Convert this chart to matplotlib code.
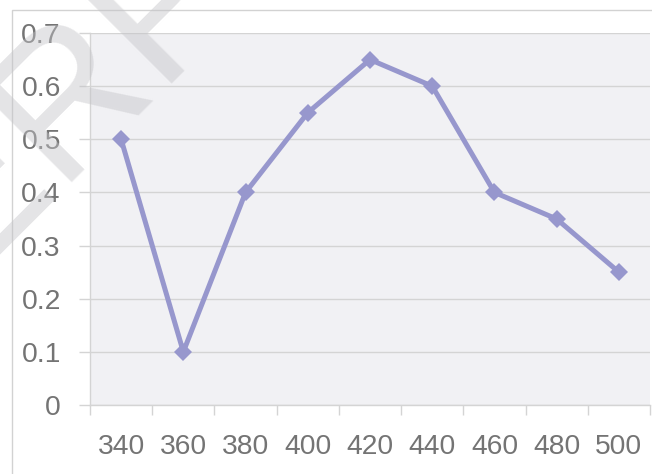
import matplotlib
matplotlib.use("Agg")
import matplotlib.pyplot as plt
from matplotlib.patches import Rectangle
import numpy as np

categories = ["340", "360", "380", "400", "420", "440", "460", "480", "500"]
values = [0.5, 0.1, 0.4, 0.55, 0.65, 0.6, 0.4, 0.35, 0.25]
y_ticks = [0, 0.1, 0.2, 0.3, 0.4, 0.5, 0.6, 0.7]
y_labels = ["0", "0.1", "0.2", "0.3", "0.4", "0.5", "0.6", "0.7"]

W, H = 652, 474
DPI = 100
plt.rcParams['font.family'] = ['Liberation Sans', 'DejaVu Sans']

fig = plt.figure(figsize=(W / DPI, H / DPI), dpi=DPI)
fig.patch.set_facecolor('white')

# outer chart border
fig.patches.append(Rectangle((12 / W, -0.1), 1.0, (H - 10) / H + 0.1,
                             transform=fig.transFigure, fill=False,
                             edgecolor='#d2d2d2', linewidth=1.0, zorder=0))

ax = fig.add_axes([90 / W, (H - 405) / H, 560 / W, 372 / H])
ax.set_facecolor('#f1f1f4')

x = np.arange(len(categories))
ax.plot(x, values, color='#9797cd', linewidth=3.6, marker='D',
        markersize=9.5, markeredgewidth=0, zorder=3, solid_joinstyle='miter')

ax.set_xlim(-0.5, len(categories) - 0.5)
ax.set_ylim(0, 0.7)

ax.set_yticks(y_ticks)
ax.set_yticklabels(y_labels)
ax.set_xticks(x)
ax.set_xticklabels(categories)
ax.set_xticks(np.arange(len(categories) + 1) - 0.5, minor=True)

ax.yaxis.grid(True, color='#d4d4d4', linewidth=1.0, zorder=1)
ax.set_axisbelow(True)

for s in ['top', 'right']:
    ax.spines[s].set_visible(False)
for s in ['left', 'bottom']:
    ax.spines[s].set_color('#d4d4d4')
    ax.spines[s].set_linewidth(1.0)

ax.tick_params(axis='y', which='major', length=8, width=1.0, color='#d4d4d4',
               labelsize=20.3, labelcolor='#747474', pad=13)
ax.tick_params(axis='x', which='major', length=0, labelsize=20.3,
               labelcolor='#747474', pad=21)
ax.tick_params(axis='x', which='minor', length=7, width=1.0, color='#d4d4d4')

# watermark
fig.text(70 / W, 1 - 97 / H, "ERP", rotation=45, fontsize=140,
         color='#c4c4c8', alpha=0.45, ha='center', va='center',
         rotation_mode='anchor', zorder=10)

fig.savefig("out.png", dpi=DPI)
